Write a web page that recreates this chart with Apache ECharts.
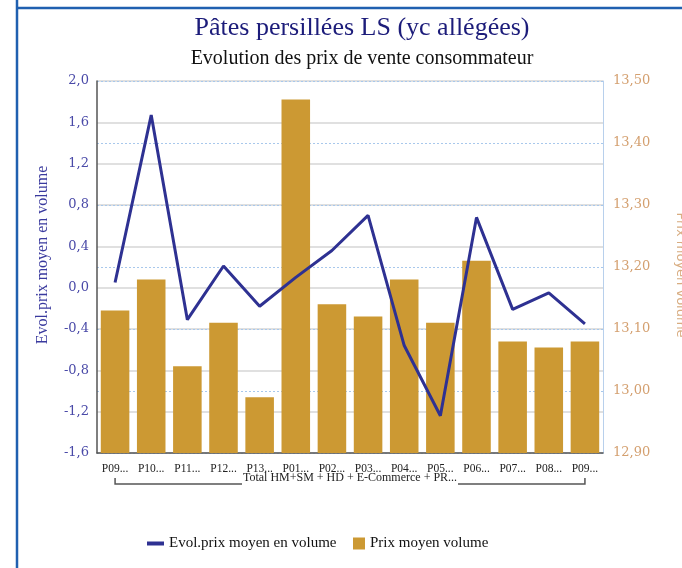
<!DOCTYPE html>
<html>
<head>
<meta charset="utf-8">
<script src="https://cdn.jsdelivr.net/npm/echarts@6/dist/echarts.min.js"></script>
<style>
html,body{margin:0;padding:0;background:#fff;}
#c{width:682px;height:568px;}
</style>
</head>
<body>
<div id="c"></div>
<script>
const categories = ["P09...", "P10...", "P11...", "P12...", "P13...", "P01...", "P02...", "P03...", "P04...", "P05...", "P06...", "P07...", "P08...", "P09..."];
const evolValues = [0.05, 1.67, -0.31, 0.21, -0.18, 0.10, 0.36, 0.70, -0.56, -1.24, 0.68, -0.21, -0.05, -0.35];
const prixValues = [13.13, 13.18, 13.04, 13.11, 12.99, 13.47, 13.14, 13.12, 13.18, 13.11, 13.21, 13.08, 13.07, 13.08];
const groupLabel = "Total HM+SM + HD + E-Commerce + PR...";
const leftTicks = {min: -1.6, max: 2.0, interval: 0.4};
const rightTicks = {min: 12.9, max: 13.5, interval: 0.1};

const serif = "'Liberation Serif', 'DejaVu Serif', serif";
const chart = echarts.init(document.getElementById('c'));
const option = {
  animation: false,
  backgroundColor: '#fff',
  title: [
    {text: 'Pâtes persillées LS (yc allégées)', left: 357, top: 10, textAlign: 'center',
     textStyle: {fontFamily: serif, fontSize: 26, fontWeight: 'normal', color: '#1c1c7a'}},
    {text: 'Evolution des prix de vente consommateur', left: 357, top: 44, textAlign: 'center',
     textStyle: {fontFamily: serif, fontSize: 20, fontWeight: 'normal', color: '#111'}}
  ],
  legend: [
    {left: 147, top: 536, padding: 0, itemWidth: 17, itemHeight: 4, icon: 'rect',
     textStyle: {fontFamily: serif, fontSize: 15, color: '#111'},
     data: ['Evol.prix moyen en volume']},
    {left: 353, top: 536, padding: 0, itemWidth: 12, itemHeight: 12, icon: 'rect',
     textStyle: {fontFamily: serif, fontSize: 15, color: '#111'},
     data: ['Prix moyen volume']}
  ],
  grid: {left: 97, right: 79, top: 81, bottom: 115, containLabel: false, outerBoundsMode: 'none'},
  xAxis: {
    type: 'category', data: categories,
    axisLine: {onZero: false, lineStyle: {color: '#555', width: 1.5}},
    axisTick: {show: false},
    axisLabel: {interval: 0, margin: 10, fontFamily: serif, fontSize: 11.5, color: '#222'}
  },
  yAxis: [
    {type: 'value', min: leftTicks.min, max: leftTicks.max, interval: leftTicks.interval,
     name: 'Evol.prix moyen en volume', nameLocation: 'middle', nameGap: 46,
     nameTextStyle: {fontFamily: serif, fontSize: 16, color: '#3a3a9e', padding: [0, 0, 0, 24]},
     axisLine: {show: true, lineStyle: {color: '#555', width: 1.5}},
     axisTick: {show: false},
     axisLabel: {fontFamily: "'DejaVu Serif', serif", fontSize: 13, color: '#4a4aa8', margin: 8,
       formatter: v => v.toFixed(1).replace('.', ',')},
     splitLine: {lineStyle: {color: '#d6d6d6', width: 1.5}}},
    {type: 'value', min: rightTicks.min, max: rightTicks.max, interval: rightTicks.interval,
     name: 'Prix moyen volume', nameLocation: 'middle', nameGap: 71, nameRotate: -90,
     nameTextStyle: {fontFamily: "'DejaVu Sans', sans-serif", fontSize: 13, color: '#d8ac80', padding: [0, 0, 0, 16]},
     axisLine: {show: true, lineStyle: {color: '#b8d0ec', width: 1}},
     axisTick: {show: false},
     axisLabel: {fontFamily: "'DejaVu Serif', serif", fontSize: 13, color: '#d4a070', margin: 10,
       formatter: v => v.toFixed(2).replace('.', ',')},
     splitLine: {lineStyle: {color: '#a8c8ec', width: 1, type: [2, 2]}}}
  ],
  series: [
    {name: 'Prix moyen volume', type: 'bar', yAxisIndex: 1, data: prixValues,
     barWidth: '79%', itemStyle: {color: '#cc9933'}, z: 2},
    {name: 'Evol.prix moyen en volume', type: 'line', yAxisIndex: 0, data: evolValues,
     symbol: 'none', lineStyle: {color: '#2e3192', width: 3}, itemStyle: {color: '#2e3192'}, z: 3}
  ],
  graphic: []
};
chart.setOption(option);

// Frame (top and left borders) and group bracket under the category axis
const p0 = chart.convertToPixel({xAxisIndex: 0}, 0);
const pN = chart.convertToPixel({xAxisIndex: 0}, categories.length - 1);
const yB = 484;
const mid = (p0 + pN) / 2;
const halfText = 108;
chart.setOption({graphic: [
  {type: 'line', shape: {x1: 17, y1: 0, x2: 17, y2: 568}, style: {stroke: '#2060b0', lineWidth: 2.5}},
  {type: 'line', shape: {x1: 16, y1: 8, x2: 682, y2: 8}, style: {stroke: '#2060b0', lineWidth: 2.5}},
  {type: 'polyline', shape: {points: [[p0, yB - 6], [p0, yB], [mid - halfText, yB]]}, style: {stroke: '#555', lineWidth: 1.5, fill: null}},
  {type: 'polyline', shape: {points: [[mid + halfText, yB], [pN, yB], [pN, yB - 6]]}, style: {stroke: '#555', lineWidth: 1.5, fill: null}},
  {type: 'text', x: mid, y: yB - 6, style: {text: groupLabel, align: 'center', verticalAlign: 'middle',
    font: "12px 'Liberation Serif', serif", fill: '#222'}}
]});
</script>
</body>
</html>
